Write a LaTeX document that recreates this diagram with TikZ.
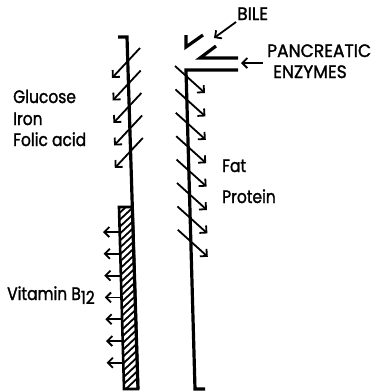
\documentclass[tikz,border=0pt]{standalone}
\usepackage{fontspec}
\setmainfont{Poppins}[FakeStretch=0.86, FakeBold=1.5]
\newfontfamily\capsfont{Poppins}[FakeStretch=0.95, FakeBold=1.5]
\usetikzlibrary{arrows.meta, positioning, calc}

\begin{document}
\begin{tikzpicture}[x=1pt, y=-1pt, >={Straight Barb[length=5pt, width=10pt]},
    wall/.style={line width=3.2pt, line join=miter},
    flow/.style={->, line width=1.8pt},
    lbl/.style={font=\fontsize{18}{18}\selectfont, inner sep=0pt, anchor=base west},
    caplbl/.style={lbl, font=\capsfont\fontsize{18}{18}\selectfont}]
  \useasboundingbox (0,0) rectangle (376,392);
  % walls
  \coordinate (lhook) at (118,37);
  \coordinate (ltop) at (127,37);
  \coordinate (lbot) at (138,389);
  \coordinate (rend) at (238,70);
  \coordinate (rtop) at (186,70);
  \coordinate (rbot) at (195,389);
  \coordinate (rhook) at (205,389);
  \draw[wall] (lhook) -- (ltop) -- (lbot);
  \draw[wall] (rend) -- (rtop) -- (rbot) -- (rhook);
  % ducts
  \draw[wall] (238,58) -- (200,58) -- (216,46);
  \draw[wall] (186,35) -- (186,47) -- (203,35);
  % hatched strip
  \begin{scope}
    \clip (119,207) -- (132.5,207) -- (138,389) -- (124,389) -- cycle;
    \foreach \y in {200,207,...,400}
      \draw[line width=1.8pt] (110,\y+8) -- (145,\y-25);
  \end{scope}
  \draw[line width=2.6pt] (119,207) -- (132.5,207) -- (138,389) -- (124,389) -- cycle;
  % absorption, left
  \foreach \i in {0,...,4}
    \draw[flow] ({140+0.7*\i},{48+22.5*\i}) -- ++(-28,30);
  \foreach \i in {0,...,6}
    \draw[flow] ({120+0.6*\i},{232+21.8*\i}) -- ++(-17,0);
  % absorption, right
  \foreach \i in {0,...,7}
    \draw[flow] ({175+0.4*\i},{66+23.4*\i}) -- ++(30,27);
  % inflow
  \node[caplbl] (bile) at (237,20) {BILE};
  \node[caplbl] (panc) at (267,57) {PANCREATIC};
  \node[caplbl] (enz) at (273,78) {ENZYMES};
  \coordinate (biletip) at (214,38);
  \coordinate (panctip) at (241,63);
  \draw[flow] (236,22) -- (biletip);
  \draw[flow] (263,63) -- (panctip);
  % labels
  \node[lbl] (glu) at (13,103) {Glucose};
  \node[lbl] (iron) at (13,125) {Iron};
  \node[lbl] (fol) at (13,146) {Folic acid};
  \node[lbl] (fat) at (222,172) {Fat};
  \node[lbl] (prot) at (222,203) {Protein};
  \node[lbl] (b12) at (7,300) {Vitamin B\raisebox{-0.4ex}{12}};
\end{tikzpicture}
\end{document}
